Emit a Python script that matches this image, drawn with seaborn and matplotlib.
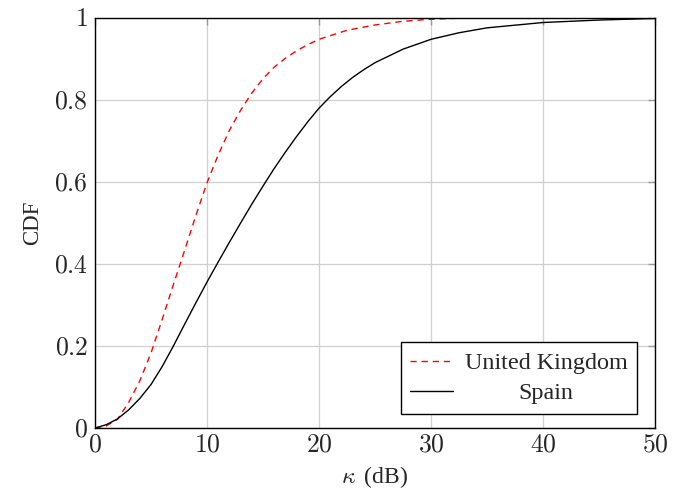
import numpy as np
import pandas as pd
import matplotlib
matplotlib.use("Agg")
import matplotlib.pyplot as plt
import seaborn as sns
from matplotlib.ticker import FuncFormatter
from matplotlib.transforms import Affine2D
from matplotlib.lines import Line2D

# ---- data ----
uk_kappa = [0, 1, 2, 3, 4, 5, 6, 7, 8, 9, 10, 11, 12, 13, 14, 15, 16, 17, 18, 19, 20,
            22.5, 25, 27.5, 30, 32.5, 35, 40, 50]
uk_cdf = [0, 0.005, 0.021, 0.062, 0.115, 0.183, 0.265, 0.35, 0.433, 0.518, 0.598, 0.666, 0.726,
          0.775, 0.817, 0.852, 0.88, 0.902, 0.92, 0.935, 0.948,
          0.97, 0.983, 0.992, 0.997, 0.9995, 1.0, 1.0, 1.0]
es_kappa = [0, 1, 2, 3, 4, 5, 6, 7, 8, 9, 10, 11, 12, 13, 14, 15, 16, 17, 18, 19, 20,
            21, 22, 23, 24, 25, 27.5, 30, 32.5, 35, 40, 45, 50]
es_cdf = [0, 0.008, 0.022, 0.044, 0.072, 0.106, 0.15, 0.2, 0.253, 0.305, 0.356, 0.405, 0.453,
          0.5, 0.546, 0.59, 0.633, 0.673, 0.711, 0.747, 0.78,
          0.808, 0.833, 0.855, 0.874, 0.891, 0.924, 0.948, 0.964, 0.976, 0.989, 0.995, 0.999]
series_names = ["United Kingdom", "Spain"]
x_ticks = [0, 10, 20, 30, 40, 50]
y_ticks = [0, 0.2, 0.4, 0.6, 0.8, 1]

df = pd.concat([
    pd.DataFrame({"kappa": uk_kappa, "cdf": uk_cdf, "country": series_names[0]}),
    pd.DataFrame({"kappa": es_kappa, "cdf": es_cdf, "country": series_names[1]}),
])

sns.set_theme(style="white")
plt.rcParams["font.family"] = ["Liberation Serif", "DejaVu Serif"]
plt.rcParams["mathtext.fontset"] = "cm"

fig = plt.figure(figsize=(6.94, 4.96), dpi=100)
ax = fig.add_axes([95 / 694, 68 / 496, 560 / 694, 410 / 496])

sns.lineplot(data=df, x="kappa", y="cdf", hue="country", style="country",
             palette={series_names[0]: "#ff0000", series_names[1]: "black"},
             dashes={series_names[0]: (4.5, 3.5), series_names[1]: ""},
             linewidth=1.0, ax=ax, legend=False, sort=False)

ax.set_xlim(0, 50)
ax.set_ylim(0, 1)
ax.set_xticks(x_ticks)
ax.set_yticks(y_ticks)
fmt = FuncFormatter(lambda v, p: f"${v:g}$")
ax.xaxis.set_major_formatter(fmt)
ax.yaxis.set_major_formatter(fmt)
ax.tick_params(axis="both", which="major", direction="in", length=5, width=1,
               color="#999999", labelsize=18.5, top=True, right=True, pad=5)
ax.grid(True, color="#d0d0d0", linewidth=0.9)
for s in ax.spines.values():
    s.set_color("black")
    s.set_linewidth(1.0)

ax.set_xlabel(r"$\kappa\,$ (dB)", fontsize=17, labelpad=5)
ax.set_ylabel("CDF", fontsize=16.5, labelpad=8)

handles = [Line2D([], [], color="#ff0000", lw=1.0, dashes=(4.5, 3.5)),
           Line2D([], [], color="black", lw=1.0)]
leg = ax.legend(handles, series_names, loc="lower right",
                bbox_to_anchor=(542 / 560, 14 / 410), borderaxespad=0,
                fontsize=17.4, frameon=True, fancybox=False, edgecolor="black",
                framealpha=1, handlelength=1.75, borderpad=0.4,
                labelspacing=0.35, handletextpad=0.5)
leg.get_frame().set_linewidth(1.0)

fig.canvas.draw()
texts = leg.get_texts()
r = fig.canvas.get_renderer()
w0 = texts[0].get_window_extent(r).width
w1 = texts[1].get_window_extent(r).width
dx = (w0 - w1) / 2
texts[1].set_transform(texts[1].get_transform() + Affine2D().translate(dx, 0))

fig.savefig("out.png", dpi=100)
